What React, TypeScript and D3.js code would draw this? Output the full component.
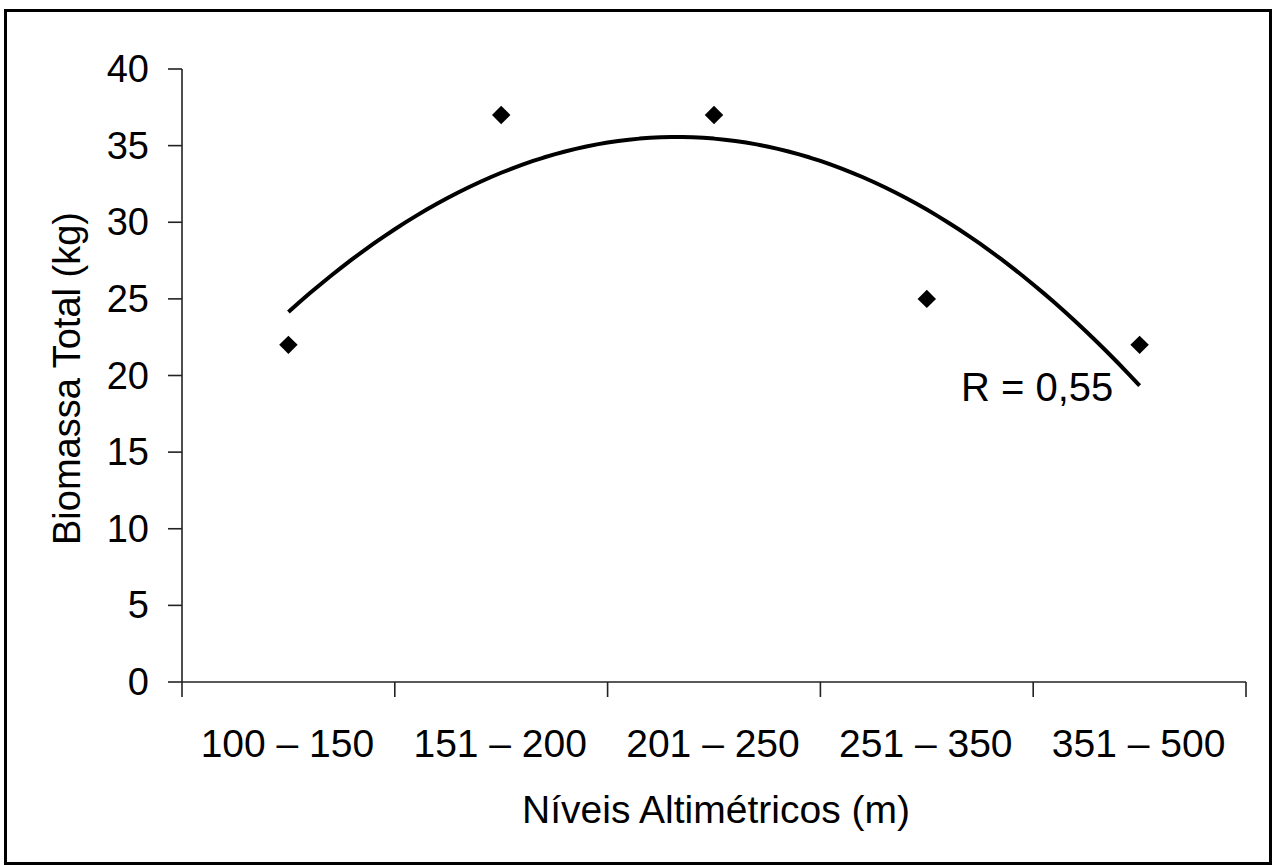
import React from "react";
import * as d3 from "d3";

const categories = ["100 – 150", "151 – 200", "201 – 250", "251 – 350", "351 – 500"];
const biomassValues = [22, 37, 37, 25, 22];
const yTickValues = [0, 5, 10, 15, 20, 25, 30, 35, 40];
const yTitle = "Biomassa Total (kg)";
const xTitle = "Níveis Altimétricos (m)";
const trendLabel = "R = 0,55";

const FONT = "'Liberation Sans', Arial, Helvetica, sans-serif";

// quadratic least squares fit on category index
function quadFit(ys: number[]) {
  const xs = ys.map((_, i) => i);
  const s = [0, 0, 0, 0, 0];
  const t = [0, 0, 0];
  xs.forEach((x, i) => {
    for (let k = 0; k < 5; k++) s[k] += Math.pow(x, k);
    for (let k = 0; k < 3; k++) t[k] += Math.pow(x, k) * ys[i];
  });
  const A = [
    [s[0], s[1], s[2], t[0]],
    [s[1], s[2], s[3], t[1]],
    [s[2], s[3], s[4], t[2]],
  ];
  for (let i = 0; i < 3; i++) {
    for (let j = i + 1; j < 3; j++) {
      const f = A[j][i] / A[i][i];
      for (let k = i; k < 4; k++) A[j][k] -= f * A[i][k];
    }
  }
  const c = [0, 0, 0];
  for (let i = 2; i >= 0; i--) {
    let v = A[i][3];
    for (let k = i + 1; k < 3; k++) v -= A[i][k] * c[k];
    c[i] = v / A[i][i];
  }
  return (x: number) => c[0] + c[1] * x + c[2] * x * x;
}

export default function App() {
  const left = 182;
  const right = 1246;
  const top = 69;
  const bottom = 682;

  const x = d3.scaleBand<string>().domain(categories).range([left, right]).padding(0);
  const y = d3.scaleLinear().domain([0, 40]).range([bottom, top]);
  const idx = d3.scaleLinear().domain([0, categories.length - 1]).range([
    x(categories[0])! + x.bandwidth() / 2,
    x(categories[categories.length - 1])! + x.bandwidth() / 2,
  ]);

  const fit = quadFit(biomassValues);
  const samples = d3.range(0, categories.length - 1 + 0.0001, 0.05);
  const line = d3
    .line<number>()
    .x((d) => idx(d))
    .y((d) => y(fit(d)))
    .curve(d3.curveLinear);

  const boundaries = categories.map((c) => x(c)!).concat([right]);
  const diamond = d3.symbol().type(d3.symbolSquare).size(170)()!;

  return (
    <svg
      width={1277}
      height={865}
      style={{ position: "absolute", left: 0, top: 0, background: "#fff" }}
      fontFamily={FONT}
    >
      <rect x={0} y={0} width={1277} height={865} fill="#fff" />
      {/* frame */}
      <rect x={5.5} y={10.5} width={1265} height={853} fill="none" stroke="#000" strokeWidth={3} />

      {/* y axis */}
      <line x1={left} x2={left} y1={y(40)} y2={bottom} stroke="#222" strokeWidth={1.6} />
      {yTickValues.map((v) => (
        <g key={v}>
          <line x1={left - 14} x2={left} y1={y(v)} y2={y(v)} stroke="#222" strokeWidth={1.6} />
          <text x={149} y={y(v) + 13} textAnchor="end" fontSize={38} fill="#000">
            {v}
          </text>
        </g>
      ))}

      {/* x axis */}
      <line x1={left} x2={right} y1={bottom} y2={bottom} stroke="#222" strokeWidth={1.6} />
      {boundaries.map((b, i) => (
        <line key={i} x1={b} x2={b} y1={bottom} y2={bottom + 15} stroke="#222" strokeWidth={1.6} />
      ))}
      {categories.map((c) => (
        <text
          key={c}
          x={x(c)! + x.bandwidth() / 2 - 1}
          y={757}
          textAnchor="middle"
          fontSize={39}
          fill="#000"
        >
          {c}
        </text>
      ))}

      {/* titles */}
      <text x={(left + right) / 2 + 2} y={823} textAnchor="middle" fontSize={39} fill="#000">
        {xTitle}
      </text>
      <text
        transform={`translate(80, ${(top + bottom) / 2 + 3}) rotate(-90)`}
        textAnchor="middle"
        fontSize={38}
        fill="#000"
      >
        {yTitle}
      </text>

      {/* trend line */}
      <path d={line(samples)!} fill="none" stroke="#000" strokeWidth={4} strokeLinejoin="round" />

      {/* points */}
      {biomassValues.map((v, i) => (
        <path
          key={i}
          d={diamond}
          transform={`translate(${x(categories[i])! + x.bandwidth() / 2}, ${y(v)}) rotate(45)`}
          fill="#000"
        />
      ))}

      <text x={961} y={401} fontSize={40} fill="#000">
        {trendLabel}
      </text>
    </svg>
  );
}
